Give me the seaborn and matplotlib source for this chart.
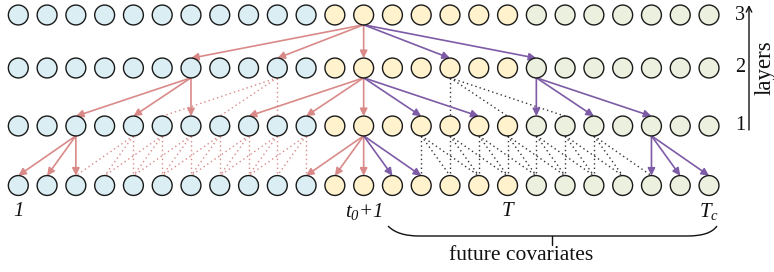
import numpy as np
import pandas as pd
import matplotlib
matplotlib.use("Agg")
import matplotlib.pyplot as plt
from matplotlib.path import Path
from matplotlib.patches import PathPatch
import seaborn as sns

# ---------------- data ----------------
groups = ["past"] * 11 + ["horizon"] * 7 + ["covariate"] * 7
layers = [0, 1, 2, 3]
layer_labels = ["1", "2", "3"]
time_labels = ["1", "$t_0$+1", "T", "$T_c$"]
time_label_idx = [0, 12, 17, 24]
brace_text = "future covariates"
axis_text = "layers"

# edges: (layer_from, k_from, k_to)   -> goes to layer_from - 1
solid_pink = [(3, 12, 6), (3, 12, 9), (3, 12, 12),
              (2, 6, 2), (2, 6, 4), (2, 6, 6),
              (2, 12, 8), (2, 12, 10), (2, 12, 12),
              (1, 2, 0), (1, 2, 1), (1, 2, 2),
              (1, 12, 10), (1, 12, 11), (1, 12, 12)]
solid_purple = [(3, 12, 15), (3, 12, 18),
                (2, 12, 14), (2, 12, 16),
                (2, 18, 18), (2, 18, 20), (2, 18, 22),
                (1, 12, 13), (1, 12, 14),
                (1, 22, 22), (1, 22, 23), (1, 22, 24)]
dotted_pink = [(2, 9, 5), (2, 9, 7), (2, 9, 9),
               (1, 4, 2), (1, 4, 3), (1, 4, 4),
               (1, 5, 3), (1, 5, 4), (1, 5, 5),
               (1, 6, 4), (1, 6, 5), (1, 6, 6),
               (1, 7, 5), (1, 7, 6), (1, 7, 7),
               (1, 8, 6), (1, 8, 7), (1, 8, 8),
               (1, 9, 7), (1, 9, 8), (1, 9, 9),
               (1, 10, 8), (1, 10, 9), (1, 10, 10)]
dotted_black = [(2, 15, 15), (2, 15, 17), (2, 15, 19),
                (1, 14, 14), (1, 14, 15), (1, 14, 16),
                (1, 15, 15), (1, 15, 16), (1, 15, 17),
                (1, 16, 16), (1, 16, 17), (1, 16, 18),
                (1, 17, 17), (1, 17, 18), (1, 17, 19),
                (1, 18, 18), (1, 18, 19), (1, 18, 20),
                (1, 19, 19), (1, 19, 20), (1, 19, 21),
                (1, 20, 20), (1, 20, 21), (1, 20, 22)]

# ---------------- layout ----------------
W, H = 774, 272
X0_PX, STEP_PX = 18.3, 28.78
ROW_Y = {3: 15, 2: 68, 1: 126, 0: 185.5}   # pixel rows (y axis inverted)
R = 9.8

def px2k(px):
    return (px - X0_PX) / STEP_PX

palette = {"past": "#DAEEF3", "horizon": "#FFF2CC", "covariate": "#EBF1DE"}
PINK = "#D98A88"
PURPLE = "#7D5BA6"

sns.set_theme(style="white")
plt.rcParams["font.family"] = ["Liberation Serif", "DejaVu Serif"]
plt.rcParams["mathtext.fontset"] = "custom"
plt.rcParams["mathtext.rm"] = "Liberation Serif:italic"
plt.rcParams["mathtext.it"] = "Liberation Serif:italic"
plt.rcParams["mathtext.default"] = "it"

fig = plt.figure(figsize=(W / 100, H / 100), dpi=100)
ax = fig.add_axes([0, 0, 1, 1])
ax.set_xlim(px2k(0), px2k(W))
ax.set_ylim(H, 0)
ax.axis("off")

rows = []
for layer in layers:
    for k, g in enumerate(groups):
        rows.append({"k": k, "y": ROW_Y[layer], "group": g})
df = pd.DataFrame(rows)
sns.scatterplot(data=df, x="k", y="y", hue="group", palette=palette, s=205,
                edgecolor="#1a1a1a", linewidth=1.0, legend=False, ax=ax, zorder=5)

def edge(lf, kf, kt, color, solid):
    start = (kf, ROW_Y[lf] + R)
    end = (kt, ROW_Y[lf - 1] - R)
    if solid:
        ax.annotate("", xy=end, xytext=start,
                    arrowprops=dict(arrowstyle="-|>", color=color, lw=1.2,
                                    mutation_scale=11, shrinkA=0, shrinkB=0),
                    zorder=3)
    else:
        ax.plot([start[0], end[0]], [start[1], end[1]], color=color, lw=1.0,
                linestyle=(0, (1, 2.2)), zorder=2)

for e in dotted_pink:
    edge(*e, PINK, False)
for e in dotted_black:
    edge(*e, "#333333", False)
for e in solid_pink:
    edge(*e, PINK, True)
for e in solid_purple:
    edge(*e, PURPLE, True)

# time labels
for lbl, k in zip(time_labels, time_label_idx):
    ax.text(k, 211, lbl, ha="center", va="center", fontsize=15,
            fontstyle="italic", color="#111")

# layer labels and arrow
for lbl, layer in zip(layer_labels, [1, 2, 3]):
    ax.text(px2k(740), ROW_Y[layer], lbl, ha="center", va="center",
            fontsize=14.5, color="#111")
ax.annotate("", xy=(px2k(749), 5), xytext=(px2k(749), 130),
            arrowprops=dict(arrowstyle="->", color="#111", lw=1.0,
                            shrinkA=0, shrinkB=0, mutation_scale=10))
ax.text(px2k(765), 68, axis_text, rotation=90, ha="center", va="center",
        fontsize=16.5, color="#111")

# brace
verts = [(px2k(388), 226), (px2k(395), 233), (px2k(405), 236), (px2k(420), 236),
         (px2k(687), 236),
         (px2k(702), 236), (px2k(712), 233), (px2k(717), 226)]
codes = [Path.MOVETO, Path.CURVE4, Path.CURVE4, Path.CURVE4,
         Path.LINETO,
         Path.CURVE4, Path.CURVE4, Path.CURVE4]
ax.add_patch(PathPatch(Path(verts, codes), fill=False, lw=1.0, edgecolor="#111"))
ax.plot([px2k(552), px2k(552)], [236, 245], color="#111", lw=1.0)
ax.text(px2k(521), 256, brace_text, ha="center", va="center", fontsize=15.5,
        color="#111")

fig.savefig("out.png", dpi=100)
